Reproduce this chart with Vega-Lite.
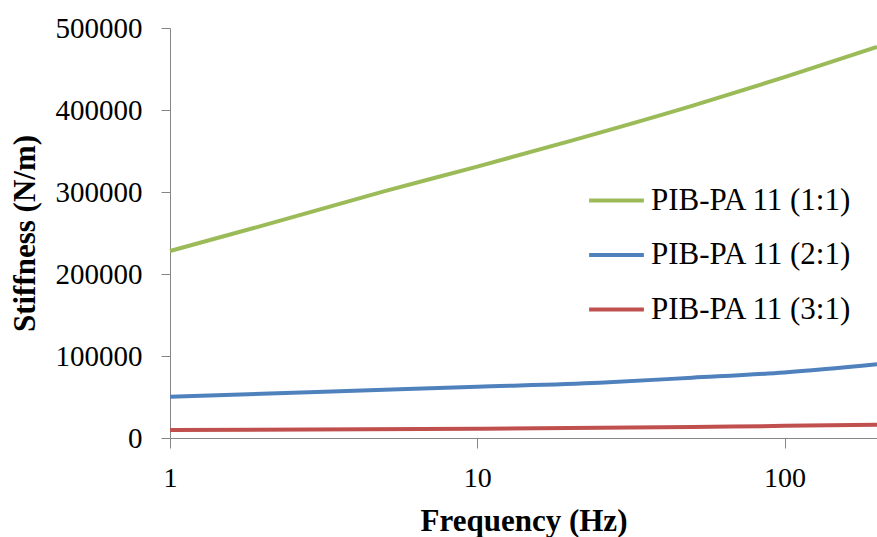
{
  "$schema": "https://vega.github.io/schema/vega-lite/v6.json",
  "autosize": "none",
  "width": 707,
  "height": 410,
  "padding": {"left": 170, "top": 28, "right": 0, "bottom": 99},
  "background": "white",
  "config": {
    "view": {"stroke": null},
    "font": "Liberation Serif, Times New Roman, serif"
  },
  "data": {
    "values": [
      {"f": 1, "stiffness": 228000, "series": "PIB-PA 11 (1:1)"},
      {"f": 2, "stiffness": 259000, "series": "PIB-PA 11 (1:1)"},
      {"f": 5, "stiffness": 301000, "series": "PIB-PA 11 (1:1)"},
      {"f": 10, "stiffness": 331000, "series": "PIB-PA 11 (1:1)"},
      {"f": 20, "stiffness": 362000, "series": "PIB-PA 11 (1:1)"},
      {"f": 50, "stiffness": 405000, "series": "PIB-PA 11 (1:1)"},
      {"f": 100, "stiffness": 440000, "series": "PIB-PA 11 (1:1)"},
      {"f": 200, "stiffness": 477000, "series": "PIB-PA 11 (1:1)"},
      {"f": 1, "stiffness": 50400, "series": "PIB-PA 11 (2:1)"},
      {"f": 3, "stiffness": 56000, "series": "PIB-PA 11 (2:1)"},
      {"f": 10, "stiffness": 62600, "series": "PIB-PA 11 (2:1)"},
      {"f": 25, "stiffness": 67500, "series": "PIB-PA 11 (2:1)"},
      {"f": 50, "stiffness": 73500, "series": "PIB-PA 11 (2:1)"},
      {"f": 100, "stiffness": 80000, "series": "PIB-PA 11 (2:1)"},
      {"f": 200, "stiffness": 90000, "series": "PIB-PA 11 (2:1)"},
      {"f": 1, "stiffness": 9800, "series": "PIB-PA 11 (3:1)"},
      {"f": 10, "stiffness": 11200, "series": "PIB-PA 11 (3:1)"},
      {"f": 50, "stiffness": 13300, "series": "PIB-PA 11 (3:1)"},
      {"f": 100, "stiffness": 14800, "series": "PIB-PA 11 (3:1)"},
      {"f": 200, "stiffness": 16200, "series": "PIB-PA 11 (3:1)"}
    ]
  },
  "mark": {"type": "line", "strokeWidth": 4, "interpolate": "monotone", "clip": false},
  "encoding": {
    "x": {
      "field": "f",
      "type": "quantitative",
      "scale": {"type": "log", "domain": [1, 200], "nice": false},
      "axis": {
        "title": "Frequency (Hz)",
        "values": [1, 10, 100],
        "format": "d",
        "grid": false,
        "domainColor": "#868686",
        "tickColor": "#868686",
        "tickSize": 10,
        "labelPadding": 16,
        "labelFontSize": 28,
        "labelColor": "black",
        "labelFlush": false,
        "titleFontSize": 31,
        "titleFontWeight": "bold",
        "titleColor": "black",
        "titlePadding": 14
      }
    },
    "y": {
      "field": "stiffness",
      "type": "quantitative",
      "scale": {"domain": [0, 500000], "nice": false},
      "axis": {
        "title": "Stiffness (N/m)",
        "values": [0, 100000, 200000, 300000, 400000, 500000],
        "format": "d",
        "grid": false,
        "domainColor": "#868686",
        "tickColor": "#868686",
        "tickSize": 9,
        "labelPadding": 19,
        "labelFontSize": 29,
        "labelColor": "black",
        "labelFlush": false,
        "titleFontSize": 31,
        "titleFontWeight": "bold",
        "titleColor": "black",
        "titlePadding": 14
      }
    },
    "color": {
      "field": "series",
      "type": "nominal",
      "scale": {
        "domain": ["PIB-PA 11 (1:1)", "PIB-PA 11 (2:1)", "PIB-PA 11 (3:1)"],
        "range": ["#9BBB59", "#4F81BD", "#C0504D"]
      },
      "legend": {
        "title": null,
        "orient": "none",
        "legendX": 417,
        "legendY": 143,
        "padding": 0,
        "symbolType": "stroke",
        "symbolStrokeWidth": 4,
        "symbolSize": 3000,
        "rowPadding": 9.5,
        "labelOffset": 5,
        "labelFontSize": 31,
        "labelColor": "black",
        "labelLimit": 400
      }
    }
  }
}
